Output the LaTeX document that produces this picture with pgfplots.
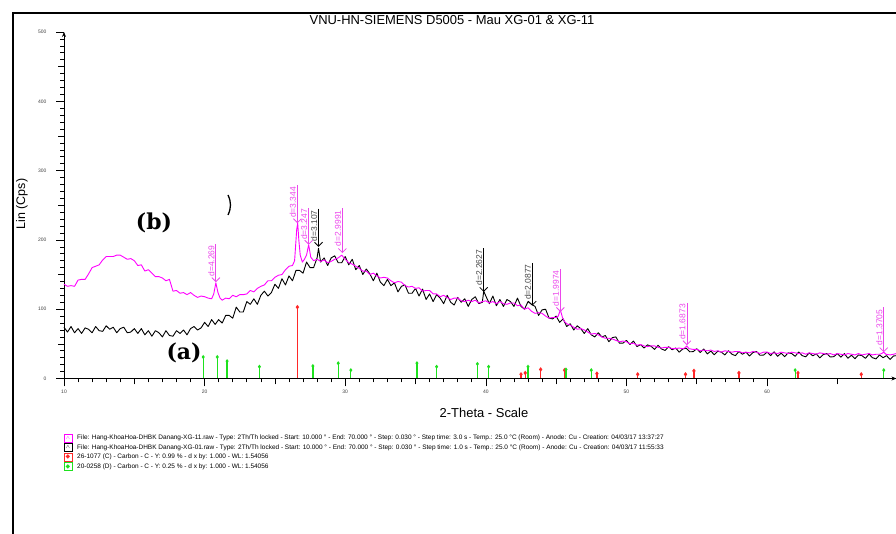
\documentclass[border=0pt]{standalone}
\usepackage{pgfplots}
\pgfplotsset{compat=1.18}
\usepackage{fontspec}
\setmainfont{Liberation Sans}
\newfontfamily\serifb{DejaVu Serif}
\newfontfamily\dejavu{DejaVu Sans}
\usetikzlibrary{arrows.meta}
\definecolor{mag}{RGB}{255,0,255}
\definecolor{lblmag}{RGB}{235,70,235}
\definecolor{lblblk}{RGB}{70,70,70}
\definecolor{stkred}{RGB}{255,40,40}
\definecolor{stkgreen}{RGB}{30,225,30}
\begin{document}
\begin{tikzpicture}[x=1bp,y=1bp]
\useasboundingbox (0,0) rectangle (896,534);
\draw[line width=2.5bp] (13,-5) -- (13,521) -- (905,521);
\node[font=\fontsize{13}{15}\selectfont] at (452,514) {VNU-HN-SIEMENS D5005 - Mau XG-01 \& XG-11};
\node[rotate=90,font=\fontsize{12.5}{14}\selectfont] at (22,330) {Lin (Cps)};
\node[font=\fontsize{13}{15}\selectfont] at (484,121) {2-Theta - Scale};
\begin{axis}[
  at={(64bp,155.5bp)}, anchor=south west,
  scale only axis, width=832.4bp, height=346.5bp,
  xmin=10, xmax=69.2, ymin=0, ymax=500,
  axis lines=left,
  axis line style={line width=0.9bp, -{Stealth[length=5bp,width=4bp]}},
  tick align=outside,
  major tick length=8bp, minor tick length=4bp,
  every tick/.style={black, line width=0.6bp},
  ytick={0,100,...,500}, minor y tick num=9,
  xtick={10,20,...,60}, minor x tick num=9,
  extra y ticks={50,150,250,350,450}, extra y tick labels={},
  extra x ticks={15,25,35,45,55,65}, extra x tick labels={},
  extra tick style={major tick length=6bp},
  /pgf/number format/assume math mode=true,
  tick label style={font=\fontsize{5}{6}\selectfont, color=black!75},
  yticklabel style={xshift=-6bp},
  clip=false,
]
% sticks
\addplot[ycomb, stkred, line width=1.2bp, mark=diamond*, mark size=1.3bp, mark options={fill=stkred, draw=stkred}] coordinates {
(26.6,103)(42.5,6)(42.8,8)(43.9,13)(45.6,12)(47.9,7)(50.8,6)(54.2,6)(54.8,11)(58.0,8)(62.2,8)(66.7,6)};
\addplot[ycomb, stkgreen, line width=1.3bp, mark=diamond*, mark size=1bp, mark options={fill=stkgreen, draw=stkgreen}] coordinates {
(19.9,31)(20.9,31)(21.6,25)(23.9,17)(27.7,18)(29.5,22)(30.4,12)(35.1,22)(36.5,17)(39.4,21)(40.2,17)(43.0,17)(45.7,13)(47.5,12)(62.0,12)(68.3,12)};
% black (a) XG-01
\addplot[black, line width=0.9bp, line join=round] coordinates {
(10,74)(10.25,67)(10.5,75)(10.75,66)(11,72)(11.25,65)(11.5,73)(11.75,71)(12,66)(12.25,75)(12.5,69)(12.75,68)(13,76)(13.25,71)(13.5,74)(13.75,66)(14,72)(14.25,74)(14.5,66)(14.75,67)(15,72)(15.25,65)(15.5,72)(15.75,63)(16,69)(16.25,61)(16.5,69)(16.75,66)(17,60)(17.25,69)(17.5,62)(17.75,61)(18,69)(18.25,65)(18.5,70)(18.75,63)(19,72)(19.25,75)(19.5,70)(19.75,73)(20,81)(20.25,75)(20.5,85)(20.75,78)(21,85)(21.25,80)(21.5,91)(21.75,91)(22,87)(22.25,103)(22.5,96)(22.75,96)(23,111)(23.25,107)(23.5,115)(23.75,107)(24,120)(24.25,126)(24.5,119)(24.75,124)(25,136)(25.25,130)(25.5,144)(25.75,135)(26,148)(26.25,141)(26.5,156)(26.75,156)(27,152)(27.25,168)(27.5,160)(27.75,160)(28,174)(28.1,188)(28.25,168)(28.5,174)(28.75,163)(29,174)(29.25,177)(29.5,167)(29.75,167)(30,176)(30.25,164)(30.5,172)(30.75,157)(31,163)(31.25,150)(31.5,158)(31.75,151)(32,141)(32.25,152)(32.5,139)(32.75,134)(33,143)(33.25,134)(33.5,138)(33.75,125)(34,133)(34.25,135)(34.5,123)(34.75,123)(35,130)(35.25,119)(35.5,129)(35.75,114)(36,122)(36.25,111)(36.5,121)(36.75,116)(37,108)(37.25,120)(37.5,110)(37.75,106)(38,117)(38.25,110)(38.5,115)(38.75,104)(39,114)(39.25,118)(39.5,108)(39.75,110)(39.85,126)(40,119)(40.25,108)(40.5,119)(40.75,105)(41,114)(41.25,104)(41.5,114)(41.75,111)(42,104)(42.25,116)(42.5,104)(42.75,100)(43,111)(43.25,107)(43.5,104)(43.75,91)(44,99)(44.25,100)(44.5,87)(44.75,86)(45,90)(45.25,81)(45.5,86)(45.75,75)(46,79)(46.25,70)(46.5,76)(46.75,72)(47,65)(47.25,72)(47.5,63)(47.75,60)(48,66)(48.25,60)(48.5,62)(48.75,53)(49,59)(49.25,60)(49.5,51)(49.75,51)(50,55)(50.25,49)(50.5,54)(50.75,46)(51,49)(51.25,44)(51.5,48.5)(51.75,46.5)(52,42)(52.25,48)(52.5,42.5)(52.75,40.5)(53,46)(53.25,41.5)(53.5,44)(53.75,38)(54,42.5)(54.25,43.75)(54.5,38.5)(54.75,38.75)(55,43)(55.25,37.5)(55.5,42.5)(55.75,35.5)(56,39.5)(56.25,34.25)(56.5,39.5)(56.75,38)(57,34)(57.25,40)(57.5,35)(57.75,33)(58,39)(58.25,35)(58.5,38)(58.75,32.5)(59,37.5)(59.25,39)(59.5,33.5)(59.75,33.75)(60,38)(60.25,33)(60.5,38.5)(60.75,32)(61,36.5)(61.25,31.5)(61.5,37)(61.75,36)(62,32)(62.25,38.25)(62.5,33)(62.75,31.25)(63,37)(63.25,32.75)(63.5,35.5)(63.75,29.75)(64,34.5)(64.25,36)(64.5,31)(64.75,31.5)(65,36)(65.25,30.75)(65.5,36)(65.75,29.25)(66,33.5)(66.25,28.5)(66.5,34)(66.75,33)(67,29)(67.25,35.25)(67.5,30)(67.75,28.25)(68,34)(68.25,30)(68.5,33)(68.75,27.5)(69,32.5)(69.2,33)};
% magenta (b) XG-11
\addplot[mag, line width=0.9bp, line join=round] coordinates {
(10,136)(10.25,133)(10.5,134)(10.75,133)(11,142)(11.25,143)(11.5,143)(11.75,151)(12,160)(12.25,162)(12.5,164)(12.75,171)(13,176)(13.25,176)(13.5,176)(13.75,178)(14,178)(14.25,175)(14.5,172)(14.75,173)(15,170)(15.25,163)(15.5,164)(15.75,155)(16,157)(16.25,152)(16.5,147)(16.75,147)(17,145)(17.25,141)(17.5,143)(17.75,126)(18,127)(18.25,123)(18.5,124)(18.75,121)(19,124)(19.25,120)(19.5,117)(19.75,119)(20,118)(20.25,116)(20.5,115)(20.65,122)(20.8,138)(20.95,124)(21.1,116)(21.25,113)(21.5,116)(21.75,115)(22,120)(22.25,118)(22.5,121)(22.75,121)(23,122)(23.25,127)(23.5,125)(23.75,130)(24,133)(24.25,135)(24.5,141)(24.75,141)(25,146)(25.25,149)(25.5,150)(25.75,157)(26,162)(26.25,163)(26.4,170)(26.55,215)(26.62,224)(26.7,200)(26.8,178)(26.95,168)(27.1,172)(27.25,178)(27.4,193)(27.55,175)(27.75,170)(28,172)(28.25,169)(28.5,171)(28.75,167)(29,169)(29.25,172)(29.5,174)(29.75,178)(30,172)(30.25,167)(30.5,165)(30.75,162)(31,159)(31.25,155)(31.5,155)(31.75,150)(32,152)(32.25,148)(32.5,145)(32.75,146)(33,145)(33.25,141)(33.5,138)(33.75,140)(34,139)(34.25,134)(34.5,132)(34.75,133)(35,130)(35.25,131)(35.5,126)(35.75,127)(36,127)(36.25,122)(36.5,122)(36.75,118)(37,120)(37.25,117)(37.5,114)(37.75,116)(38,116)(38.25,112)(38.5,111)(38.75,113)(39,111)(39.25,113)(39.5,109)(39.75,111)(40,112)(40.25,109)(40.5,111)(40.75,108)(41,111)(41.25,108)(41.5,107)(41.75,109)(42,109)(42.25,105)(42.5,106)(42.75,100)(43,102)(43.25,97)(43.5,94)(43.75,95)(44,94)(44.25,90)(44.5,87)(44.75,88)(45,88)(45.15,90)(45.3,99)(45.45,88)(45.6,82)(45.75,79)(46,77)(46.25,74)(46.5,71)(46.75,72)(47,70)(47.25,67)(47.5,64)(47.75,65)(48,63)(48.25,60)(48.5,58)(48.75,58)(49,57)(49.25,55)(49.5,53)(49.75,54)(50,53)(50.25,50)(50.5,51)(50.75,48)(51,49)(51.25,47)(51.5,46)(51.75,47)(52,47)(52.25,45)(52.5,44)(52.75,45)(53,45)(53.25,43)(53.5,43)(53.75,44)(54,43)(54.15,44)(54.3,47)(54.45,43)(54.75,42)(55,42)(55.25,40)(55.5,41)(55.75,40)(56,41)(56.25,39)(56.5,40)(56.75,38)(57,40)(57.25,39)(57.5,38)(57.75,39)(58,39)(58.25,37)(58.5,38)(58.75,37)(59,39)(59.25,38)(59.5,36)(59.75,38)(60,38)(60.25,36)(60.5,37)(60.75,36)(61,38)(61.25,37)(61.5,36)(61.75,38)(62,37)(62.25,36)(62.5,37)(62.75,35)(63,37)(63.25,36)(63.5,35)(63.75,37)(64,36)(64.25,35)(64.5,36)(64.75,34)(65,36)(65.25,35)(65.5,34)(65.75,36)(66,35)(66.25,34)(66.5,36)(66.75,34)(67,35)(67.25,36)(67.5,34)(67.75,35)(68,35)(68.15,36)(68.3,38)(68.45,35)(68.75,34)(69,35)(69.2,36)};
% d-spacing annotations
\tikzset{dm/.style={lblmag, line width=0.8bp, -{Straight Barb[length=4bp,width=8bp]}},
         db/.style={black, line width=0.8bp, -{Straight Barb[length=4bp,width=8bp]}},
         dl/.style={rotate=90, anchor=south, inner sep=1bp, font=\fontsize{8.5}{9}\selectfont}}
\draw[dm] (axis cs:20.8,194) -- node[dl,pos=0.45,lblmag]{d=4.269} (axis cs:20.8,139);
\draw[dm] (axis cs:26.6,279) -- node[dl,pos=0.45,lblmag]{d=3.344} (axis cs:26.6,224);
\draw[dm] (axis cs:27.4,246) -- node[dl,pos=0.45,lblmag]{d=3.247} (axis cs:27.4,193);
\draw[db] (axis cs:28.1,245) -- node[dl,pos=0.45,lblblk]{d=3.107} (axis cs:28.1,190);
\draw[dm] (axis cs:29.8,246) -- node[dl,pos=0.45,lblmag]{d=2.9991} (axis cs:29.8,181);
\draw[db] (axis cs:39.85,188) -- node[dl,pos=0.45,lblblk]{d=2.2627} (axis cs:39.85,125);
\draw[db] (axis cs:43.3,167) -- node[dl,pos=0.45,lblblk]{d=2.0877} (axis cs:43.3,105);
\draw[dm] (axis cs:45.3,158) -- node[dl,pos=0.45,lblmag]{d=1.9974} (axis cs:45.3,96);
\draw[dm] (axis cs:54.3,109) -- node[dl,pos=0.45,lblmag]{d=1.6873} (axis cs:54.3,48);
\draw[dm] (axis cs:68.3,103) -- node[dl,pos=0.45,lblmag]{d=1.3705} (axis cs:68.3,38);
\end{axis}
% labels (a), (b)
\node[font=\serifb\bfseries\fontsize{22}{24}\selectfont] at (154,311) {(b)};
\node[font=\serifb\bfseries\fontsize{22}{24}\selectfont] at (184,181.5) {(a)};
\draw[line width=1.3bp] (228,339) to[bend left=25] (228,319);
% legend block
\tikzset{lt/.style={anchor=west, inner sep=0pt, font=\fontsize{6.5}{7}\selectfont}}
\draw[mag, line width=0.6bp] (64,92) rectangle (72,100);
\node[mag, font=\fontsize{5}{5}\selectfont, inner sep=0pt] at (68,96) {$\wedge$};
\node[lt] at (77,96) {File: Hang-KhoaHoa-DHBK Danang-XG-11.raw - Type: 2Th/Th locked - Start: 10.000 ° - End: 70.000 ° - Step: 0.030 ° - Step time: 3.0 s - Temp.: 25.0 °C (Room) - Anode: Cu - Creation: 04/03/17 13:37:27};
\draw[black, line width=0.6bp] (64,82.5) rectangle (72,90.5);
\node[black, font=\fontsize{5}{5}\selectfont, inner sep=0pt] at (68,86.5) {$\wedge$};
\node[lt] at (77,86.5) {File: Hang-KhoaHoa-DHBK Danang-XG-01.raw - Type: 2Th/Th locked - Start: 10.000 ° - End: 70.000 ° - Step: 0.030 ° - Step time: 1.0 s - Temp.: 25.0 °C (Room) - Anode: Cu - Creation: 04/03/17 11:55:33};
\draw[stkred, line width=0.6bp] (64,73) rectangle (72,81);
\node[stkred, font=\dejavu\fontsize{6}{6}\selectfont, inner sep=0pt] at (68,77) {◆};
\node[lt] at (77,77) {26-1077 (C) - Carbon - C - Y: 0.99 \% - d x by: 1.000 - WL: 1.54056};
\draw[stkgreen, line width=0.6bp] (64,63.5) rectangle (72,71.5);
\node[stkgreen, font=\dejavu\fontsize{6}{6}\selectfont, inner sep=0pt] at (68,67.5) {◆};
\node[lt] at (77,67.5) {20-0258 (D) - Carbon - C - Y: 0.25 \% - d x by: 1.000 - WL: 1.54056};
\end{tikzpicture}
\end{document}
